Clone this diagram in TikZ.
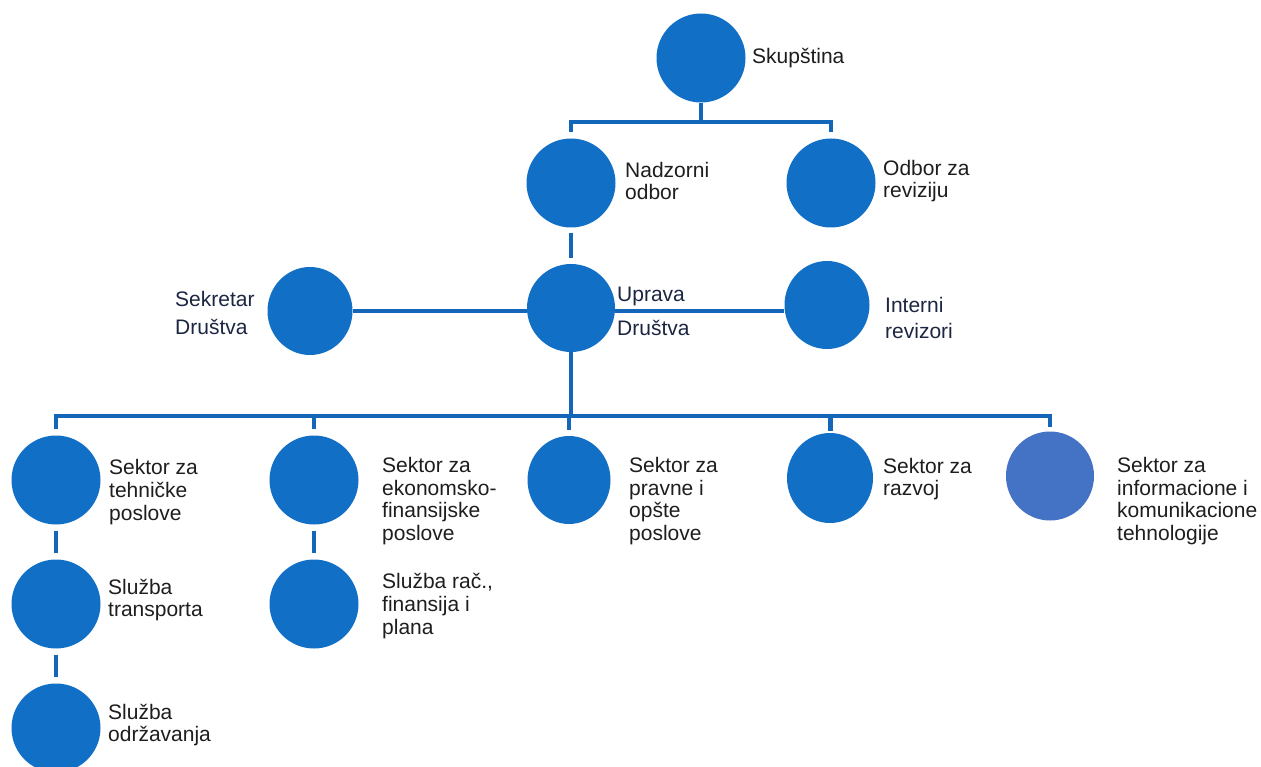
\documentclass[tikz,border=0pt]{standalone}
\usepackage{fontspec}
\setmainfont{Liberation Sans}
\usetikzlibrary{shapes.geometric}
\definecolor{cblue}{HTML}{1170C6}
\definecolor{lblue}{HTML}{4472C4}
\definecolor{lineblue}{HTML}{1466B8}
\definecolor{txt}{HTML}{1E1E1E}
\definecolor{txtb}{HTML}{1C2642}
\begin{document}
\begin{tikzpicture}[x=1pt,y=-1pt,
  dot/.style={ellipse,fill=cblue,inner sep=0pt,minimum width=89pt,minimum height=89pt},
  lab/.style={anchor=west,align=left,text=txt,font=\fontsize{21}{22.6}\selectfont,inner sep=0pt},
  conn/.style={draw=lineblue,line width=4pt}]
\useasboundingbox[fill=white] (0,0) rectangle (1261,767);
% circles
\node[dot] (sk) at (701,58) {};
\node[dot] (nad) at (571,183) {};
\node[dot] (odb) at (831,183) {};
\node[dot,minimum width=85pt,minimum height=88pt] (sek) at (310,311) {};
\node[dot,minimum width=88pt,minimum height=88pt] (upr) at (571,308) {};
\node[dot,minimum width=85pt,minimum height=88pt] (int) at (827,305) {};
\node[dot] (s1) at (56,480) {};
\node[dot] (s2) at (314,480) {};
\node[dot,minimum width=83pt,minimum height=88pt] (s3) at (569,480) {};
\node[dot,minimum width=86pt,minimum height=90pt] (s4) at (830,478) {};
\node[dot,fill=lblue,minimum width=88pt,minimum height=89pt] (s5) at (1050,476) {};
\node[dot] (t1) at (56,604) {};
\node[dot] (t2) at (56,728) {};
\node[dot] (r1) at (314,604) {};
% labels
\node[lab] (lsk) at (752,58) {Skupština};
\node[lab] (lnad) at (625,181) {Nadzorni\\odbor};
\node[lab] (lodb) at (883,181) {Odbor za\\reviziju};
\node[lab,text=txtb,font=\fontsize{21}{28}\selectfont] (lsek) at (175,313) {Sekretar\\Društva};
\node[lab,text=txtb,font=\fontsize{21}{34}\selectfont] (lupr) at (617,311) {Uprava\\Društva};
\node[lab,text=txtb,font=\fontsize{21}{26}\selectfont] (lint) at (885,318) {Interni\\revizori};
\node[lab] (ls1) at (109,492) {Sektor za\\tehničke\\poslove};
\node[lab] (ls2) at (382,501) {Sektor za\\ekonomsko-\\finansijske\\poslove};
\node[lab] (ls3) at (629,501) {Sektor za\\pravne i\\opšte\\poslove};
\node[lab] (ls4) at (883,479) {Sektor za\\razvoj};
\node[lab] (ls5) at (1117,501) {Sektor za\\informacione i\\komunikacione\\tehnologije};
\node[lab] (lt1) at (108,600) {Služba\\transporta};
\node[lab] (lt2) at (108,725) {Služba\\održavanja};
\node[lab] (lr1) at (382,606) {Služba rač.,\\finansija i\\plana};
% connectors
\coordinate (b1) at (701,122);
\coordinate (b2) at (571,416);
\draw[conn] (sk.south) -- (b1);
\draw[conn] ([yshift=6pt]nad.north) |- (b1) -| ([yshift=6pt]odb.north);
\draw[conn] ([yshift=-5pt]nad.south) -- ([yshift=6pt]upr.north);
\draw[conn] (sek.east) -- (sek.east -| upr.west);
\draw[conn] (upr.east |- sek.east) -- (sek.east -| int.west);
\draw[conn] (upr.south) -- (b2);
\draw[conn] ([yshift=6pt]s1.north) |- (b2) -| ([yshift=4pt]s5.north);
\draw[conn] ([yshift=6pt]s2.north) -- (s2.north |- b2);
\draw[conn] ([yshift=6pt]s3.north) -- (s3.north |- b2);
\draw[conn,line width=5pt] ([yshift=2pt]s4.north) -- (s4.north |- b2);
\draw[conn] ([yshift=-6pt]s1.south) -- ([yshift=6pt]t1.north);
\draw[conn] ([yshift=-6pt]t1.south) -- ([yshift=6pt]t2.north);
\draw[conn] ([yshift=-6pt]s2.south) -- ([yshift=6pt]r1.north);
\end{tikzpicture}
\end{document}
